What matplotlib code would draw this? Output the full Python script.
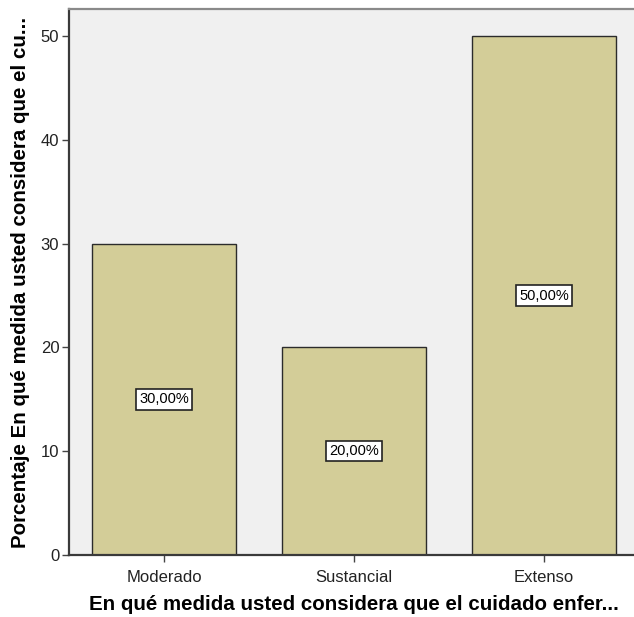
import matplotlib
matplotlib.use("Agg")
import matplotlib.pyplot as plt

categories = ["Moderado", "Sustancial", "Extenso"]
percentages = [30.0, 20.0, 50.0]
yticks = [0, 10, 20, 30, 40, 50]

plt.rcParams["font.family"] = ["Liberation Sans", "DejaVu Sans"]

fig = plt.figure(figsize=(6.34, 6.17), dpi=100)
W, H = 634, 617
left, right, top, bottom = 69, 639, 9, 555
ax = fig.add_axes([left / W, 1 - bottom / H, (right - left) / W, (bottom - top) / H])
ax.set_facecolor("#F0F0F0")

x = range(len(categories))
bars = ax.bar(x, percentages, width=0.758, color="#D3CD98",
              edgecolor="#2b2b2b", linewidth=1.0, zorder=2)

for xi, v in zip(x, percentages):
    ax.text(xi, v / 2, f"{v:.2f}".replace(".", ",") + "%",
            ha="center", va="center", fontsize=10.5, color="black", zorder=3,
            bbox=dict(boxstyle="square,pad=0.22", facecolor="white",
                      edgecolor="#222222", linewidth=1.2))

ax.set_xlim(-0.5, 2.5)
ax.set_ylim(0, (bottom - top) / ((bottom - 36) / 50))
ax.set_xticks(list(x))
ax.set_xticklabels(categories, fontsize=12, color="#222222")
ax.set_yticks(yticks)
ax.set_yticklabels([str(t) for t in yticks], fontsize=12, color="#222222")
ax.tick_params(axis="both", direction="out", length=5, width=1, color="#444444", pad=2)
ax.tick_params(axis="x", pad=6)

for side in ["left", "bottom"]:
    ax.spines[side].set_color("#3a3a3a")
    ax.spines[side].set_linewidth(1.6)
ax.spines["top"].set_color("#8a8a8a")
ax.spines["top"].set_linewidth(1.6)
ax.spines["right"].set_visible(False)

ax.set_xlabel("En qué medida usted considera que el cuidado enfer...",
              fontsize=14.8, fontweight="bold", labelpad=7)
ax.set_ylabel("Porcentaje En qué medida usted considera que el cu...",
              fontsize=14.8, fontweight="bold", labelpad=8)

fig.savefig("out.png", dpi=100, facecolor="white")
